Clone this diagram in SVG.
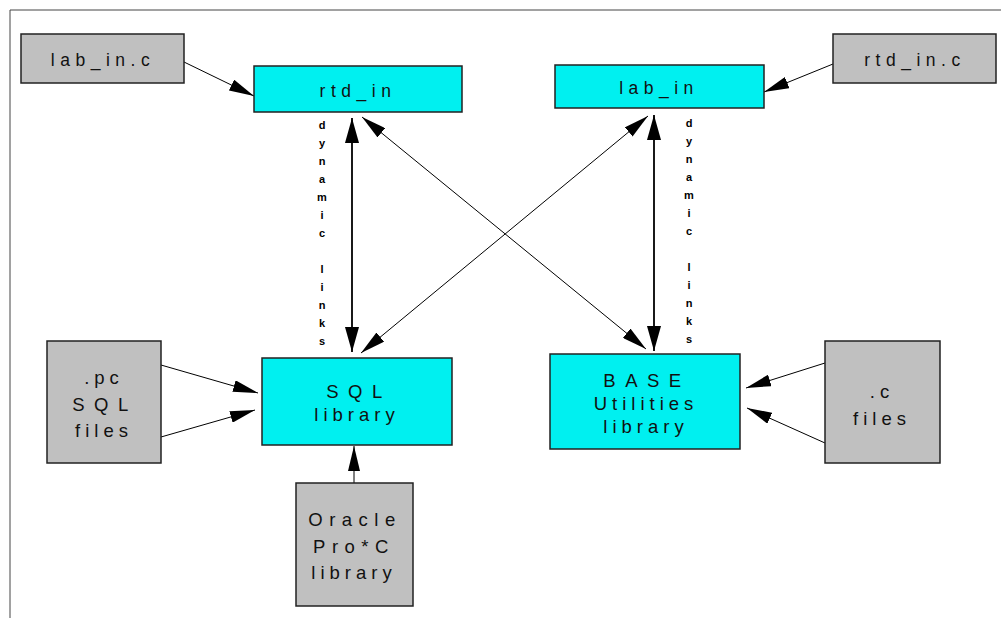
<svg xmlns="http://www.w3.org/2000/svg" width="1001" height="618" viewBox="0 0 1001 618">
<style>
.src{fill:#c0c0c0;stroke:#222;stroke-width:1.5}
.lib{fill:#00f0f0;stroke:#222;stroke-width:1.5}
.t{font-family:"Liberation Sans",Arial,sans-serif;font-size:17.5px;fill:#111;text-anchor:middle;letter-spacing:5.5px}
.t2{font-family:"Liberation Sans",Arial,sans-serif;font-size:18.5px;fill:#111;text-anchor:middle;letter-spacing:5px}
.w{letter-spacing:9.5px}
.o{letter-spacing:6.5px}
.v{font-family:"Liberation Sans",Arial,sans-serif;font-size:11px;font-weight:bold;fill:#000;text-anchor:middle}
.c{stroke:#000;stroke-width:1;fill:none}
.ck{stroke:#000;stroke-width:1.8;fill:none}
</style>
<defs>
<marker id="ah" markerUnits="userSpaceOnUse" markerWidth="25" markerHeight="12" refX="25" refY="6" orient="auto-start-reverse">
<path d="M0,0 L25,6 L0,12 z" fill="#000"/>
</marker>
<marker id="ahk" markerUnits="userSpaceOnUse" markerWidth="25" markerHeight="14" refX="25" refY="7" orient="auto-start-reverse">
<path d="M0,0 L25,7 L0,14 z" fill="#000"/>
</marker>
</defs>
<rect width="1001" height="618" fill="#fff"/>
<path d="M10,618 V10 H1001" fill="none" stroke="#444" stroke-width="1"/>

<g id="connectors">
<line class="c" x1="184" y1="62" x2="254" y2="96" marker-end="url(#ah)"/>
<line class="c" x1="833" y1="64" x2="764" y2="92" marker-end="url(#ah)"/>
<line class="ck" x1="352" y1="118" x2="352" y2="352" marker-start="url(#ahk)" marker-end="url(#ahk)"/>
<line class="ck" x1="654" y1="115" x2="654" y2="351" marker-start="url(#ahk)" marker-end="url(#ahk)"/>
<line class="c" x1="362" y1="117" x2="646" y2="349" marker-start="url(#ah)" marker-end="url(#ah)"/>
<line class="c" x1="648" y1="116" x2="361" y2="353" marker-start="url(#ah)" marker-end="url(#ah)"/>
<line class="c" x1="161" y1="365" x2="258" y2="393" marker-end="url(#ah)"/>
<line class="c" x1="161" y1="437" x2="255" y2="410" marker-end="url(#ah)"/>
<line class="c" x1="354" y1="483" x2="354" y2="446" marker-end="url(#ah)"/>
<line class="c" x1="825" y1="363" x2="746" y2="388" marker-end="url(#ah)"/>
<line class="c" x1="825" y1="443" x2="747" y2="408" marker-end="url(#ah)"/>
</g>

<g id="label-left">
<text class="v" x="322" y="129">d</text>
<text class="v" x="322" y="147">y</text>
<text class="v" x="322" y="165">n</text>
<text class="v" x="322" y="183">a</text>
<text class="v" x="322" y="201">m</text>
<text class="v" x="322" y="219">i</text>
<text class="v" x="322" y="237">c</text>
<text class="v" x="322" y="273">l</text>
<text class="v" x="322" y="291">i</text>
<text class="v" x="322" y="309">n</text>
<text class="v" x="322" y="327">k</text>
<text class="v" x="322" y="345">s</text>
</g>
<g id="label-right">
<text class="v" x="689" y="127">d</text>
<text class="v" x="689" y="145">y</text>
<text class="v" x="689" y="163">n</text>
<text class="v" x="689" y="181">a</text>
<text class="v" x="689" y="199">m</text>
<text class="v" x="689" y="217">i</text>
<text class="v" x="689" y="235">c</text>
<text class="v" x="689" y="271">l</text>
<text class="v" x="689" y="289">i</text>
<text class="v" x="689" y="307">n</text>
<text class="v" x="689" y="325">k</text>
<text class="v" x="689" y="343">s</text>
</g>

<g id="lab_in_c">
<rect class="src" x="21" y="34" width="163" height="49"/>
<text class="t" x="103" y="66">lab_in.c</text>
</g>
<g id="rtd_in">
<rect class="lib" x="254" y="66" width="208" height="46"/>
<text class="t" x="358" y="97">rtd_in</text>
</g>
<g id="lab_in">
<rect class="lib" x="555" y="65" width="209" height="43"/>
<text class="t" x="659" y="94">lab_in</text>
</g>
<g id="rtd_in_c">
<rect class="src" x="833" y="34" width="163" height="49"/>
<text class="t" x="915" y="66">rtd_in.c</text>
</g>
<g id="pc_sql_files">
<rect class="src" x="47" y="341" width="114" height="122"/>
<text class="t2" x="104" y="384">.pc</text>
<text class="t2 w" x="105" y="411">SQL</text>
<text class="t2" x="104" y="437">files</text>
</g>
<g id="sql_library">
<rect class="lib" x="262" y="358" width="190" height="87"/>
<text class="t2 w" x="359" y="398">SQL</text>
<text class="t2" x="357" y="421">library</text>
</g>
<g id="oracle_proc">
<rect class="src" x="296" y="483" width="117" height="123"/>
<text class="t2 o" x="355" y="526">Oracle</text>
<text class="t2 o" x="354" y="553">Pro*C</text>
<text class="t2" x="354" y="579">library</text>
</g>
<g id="base_utilities">
<rect class="lib" x="550" y="354" width="190" height="95"/>
<text class="t2 w" x="647" y="387">BASE</text>
<text class="t2" x="646" y="410">Utilities</text>
<text class="t2" x="646" y="433">library</text>
</g>
<g id="c_files">
<rect class="src" x="825" y="341" width="115" height="122"/>
<text class="t2" x="882" y="398">.c</text>
<text class="t2" x="882" y="425">files</text>
</g>
</svg>
